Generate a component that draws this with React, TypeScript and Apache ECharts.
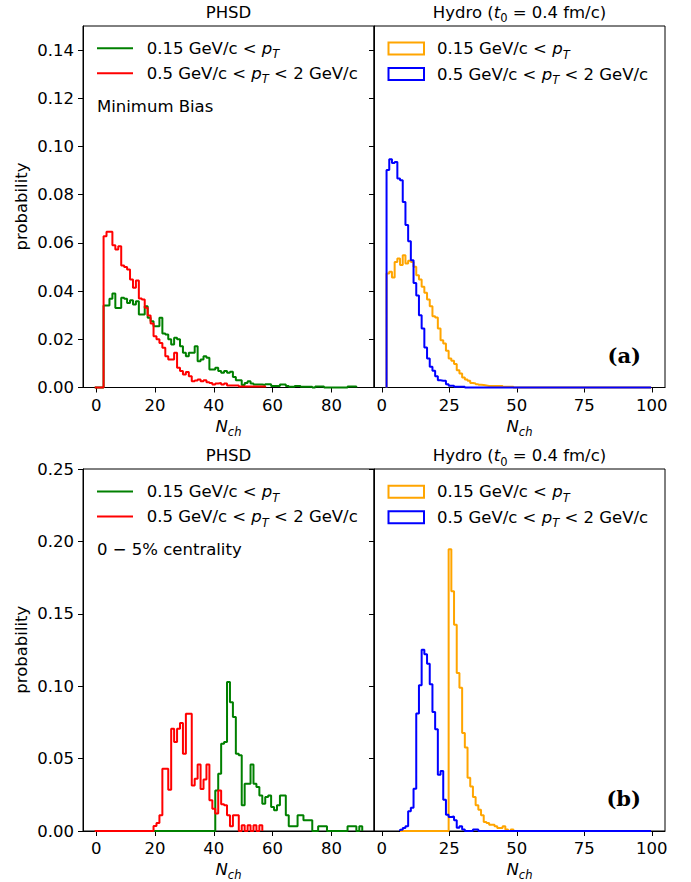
import React, { useEffect, useRef } from 'react';
import * as echarts from 'echarts';

const FONT = '"DejaVu Sans"';

// ---- Data (probability per N_ch bin, width 1) ----
// Panel (a) PHSD, minimum bias
const phsdMbGreenStart = 2.5;
const phsdMbGreen = [
  0.034, 0.034, 0.0368, 0.039, 0.033, 0.033, 0.0372, 0.0368, 0.0351, 0.0362,
  0.0344, 0.0358, 0.0303, 0.0303, 0.0337, 0.0289, 0.0275, 0.0254, 0.0254, 0.0289,
  0.0224, 0.022, 0.02, 0.0178, 0.0206, 0.02, 0.0171, 0.0144, 0.013, 0.0144,
  0.0144, 0.0171, 0.0109, 0.0116, 0.013, 0.0123, 0.0075, 0.0075, 0.0082, 0.0068,
  0.0061, 0.0068, 0.0061, 0.0065, 0.0044, 0.003, 0.003, 0.001, 0.0019, 0.0026,
  0.0017, 0.0012, 0.0012, 0.0012, 0.001, 0.0014, 0.0014, 0.0006, 0.0006, 0.0006,
  0.0012, 0.0012, 0.0006, 0.0003, 0.0003, 0.0006, 0.0006, 0.0003, 0.0003, 0.0003,
  0.0003, 0, 0.0004, 0.0004, 0.0004, 0, 0, 0, 0, 0,
  0, 0, 0, 0.0004, 0.0004, 0.0004,
];
const phsdMbRedStart = 2.5;
const phsdMbRed = [
  0.0628, 0.0646, 0.0646, 0.059, 0.0573, 0.0586, 0.0506, 0.05, 0.049, 0.0448,
  0.0414, 0.0444, 0.0369, 0.0365, 0.0331, 0.0299, 0.0266, 0.0213, 0.02, 0.0185,
  0.0165, 0.013, 0.0116, 0.0116, 0.0144, 0.0082, 0.0068, 0.0054, 0.0064, 0.0047,
  0.0026, 0.0029, 0.0033, 0.0026, 0.003, 0.0022, 0.0019, 0.0012, 0.0017, 0.0019,
  0.0012, 0.0017, 0.0008, 0.0008, 0.0008, 0.0008, 0.0004, 0.0004, 0.0004, 0.0004,
  0.0004, 0.0004, 0.0004, 0.0004, 0.0004,
];
// Panel (a) Hydro, minimum bias
const hydroMbStart = 1.75;
const hydroEnd = 99.75;
const hydroMbOrange = [
  0.0473, 0.048, 0.0456, 0.0521, 0.0535, 0.0508, 0.0549, 0.0515, 0.0526, 0.0521,
  0.0501, 0.0466, 0.0448, 0.0418, 0.0393, 0.0365, 0.0337, 0.0296, 0.029, 0.0245,
  0.0196, 0.0183, 0.0152, 0.012, 0.0111, 0.0097, 0.0072, 0.0058, 0.0041, 0.0033,
  0.0028, 0.0019, 0.0017, 0.0014, 0.0011, 0.001, 0.0008, 0.0006, 0.0006, 0.0006,
  0.0006, 0.0006, 0.0006, 0.0003, 0.0003, 0.0003, 0.0003,
];
const hydroMbBlue = [
  0.0902, 0.0947, 0.0932, 0.0936, 0.0867, 0.086, 0.077, 0.0674, 0.0607, 0.0528,
  0.0434, 0.0382, 0.03, 0.0245, 0.0166, 0.012, 0.0086, 0.0069, 0.0047, 0.003,
  0.0028, 0.0028, 0.0014, 0.0007, 0.0007, 0.0003, 0.0003, 0.0003, 0.0003,
];
// Panel (b) PHSD, 0-5% centrality
const phsdCentRedStart = 19.5;
const phsdCentRed = [
  0.0035, 0.0055, 0.0108, 0.043, 0.043, 0.0285, 0.0707, 0.0615, 0.0707, 0.0746,
  0.0534, 0.081, 0.081, 0.0315, 0.036, 0.046, 0.029, 0.0355, 0.046, 0.0212,
  0.0154, 0.012, 0.028, 0.0184, 0.0177, 0.0108, 0.0032, 0.0108, 0.0108, 0,
  0.0039, 0, 0.0039, 0, 0.0039, 0, 0.0039,
];
const phsdCentGreenStart = 40.5;
const phsdCentGreen = [
  0.028, 0.0396, 0.0603, 0.0615, 0.1029, 0.089, 0.0787, 0.0534, 0.0523, 0.0177,
  0.0327, 0.0327, 0.046, 0.0327, 0.0304, 0.0246, 0.0189, 0.0235, 0.0246, 0.0166,
  0.0143, 0.0177, 0.0246, 0.0246, 0.0108, 0.0032, 0.0032, 0.0032, 0.0108, 0.0108,
  0.0074, 0.0074, 0.0074, 0, 0, 0.0032, 0.0032, 0.0032, 0, 0,
  0, 0, 0, 0, 0, 0.0032, 0.0032, 0.0032, 0, 0.0032,
];
// Panel (b) Hydro, 0-5% centrality
const hydroCentBase = 6.75;
const hydroCentBlueStart = 6.75;
const hydroCentBlue = [
  0.0009, 0.002, 0.0032, 0.0136, 0.0161, 0.0292, 0.0812, 0.1006, 0.1252, 0.122,
  0.1155, 0.1013, 0.0822, 0.0702, 0.0389, 0.0414, 0.0215, 0.0113, 0.0097, 0.0101,
  0.0074, 0.0023, 0.0032, 0.001, 0, 0, 0, 0.0011, 0.0011,
];
const hydroCentOrangeStart = 24.75;
const hydroCentOrange = [
  0.1945, 0.1655, 0.1425, 0.1091, 0.099, 0.0677, 0.0576, 0.0368, 0.0308, 0.0235,
  0.0177, 0.0147, 0.0108, 0.0062, 0.0055, 0.0044, 0.0044, 0.0032, 0.0021, 0.0021,
  0.0032, 0.001, 0, 0.001,
];

const phsdTicks = [0, 20, 40, 60, 80];
const hydroTicks = [0, 25, 50, 75, 100];
const yTicksTop = [0, 0.02, 0.04, 0.06, 0.08, 0.1, 0.12, 0.14];
const yTicksBottom = [0, 0.05, 0.1, 0.15, 0.2, 0.25];

const GREEN = '#008000';
const RED = '#ff0000';
const ORANGE = '#ffa500';
const BLUE = '#0000ff';

function steps(x0: number, start: number, vals: number[], end?: number) {
  const pts: number[][] = [[x0, 0], [start, 0]];
  vals.forEach((v, i) => {
    pts.push([start + i, v], [start + i + 1, v]);
  });
  const last = start + vals.length;
  pts.push([last, 0]);
  if (end !== undefined && end > last) pts.push([end, 0]);
  return pts;
}

const GRIDS = [
  { left: 83, top: 26, width: 291, height: 361.5 },
  { left: 374, top: 26, width: 291, height: 361.5 },
  { left: 83, top: 469, width: 291, height: 362 },
  { left: 374, top: 469, width: 291, height: 362 },
];

function xAxis(gridIndex: number, min: number, max: number, ticks: number[]) {
  return {
    type: 'value', gridIndex, min, max,
    axisLine: { show: true, onZero: false, lineStyle: { color: '#000', width: 1 } },
    axisTick: { show: true, length: 5, customValues: ticks, lineStyle: { color: '#000', width: 1 } },
    axisLabel: { show: true, customValues: ticks, color: '#000', fontFamily: FONT, fontSize: 16.5, margin: 9, formatter: (v: number) => String(v) },
    splitLine: { show: false },
  };
}
function yAxis(gridIndex: number, max: number, ticks: number[], labels: boolean) {
  return {
    type: 'value', gridIndex, min: 0, max,
    axisLine: { show: true, onZero: false, lineStyle: { color: '#000', width: 1 } },
    axisTick: { show: true, length: 5, customValues: ticks, lineStyle: { color: '#000', width: 1 } },
    axisLabel: { show: labels, customValues: ticks, color: '#000', fontFamily: FONT, fontSize: 16.5, margin: 9, formatter: (v: number) => v.toFixed(2) },
    splitLine: { show: false },
  };
}

function line(idx: number, data: number[][], color: string, z: number) {
  return {
    type: 'line', xAxisIndex: idx, yAxisIndex: idx, data,
    symbol: 'none', showSymbol: false, clip: false, silent: true, z,
    lineStyle: { color, width: 2 }, itemStyle: { color },
  };
}

const rich = {
  i: { fontFamily: FONT, fontSize: 16.5, fontStyle: 'italic', lineHeight: 24 },
  s: { fontFamily: FONT, fontSize: 11.5, fontStyle: 'italic', lineHeight: 15, verticalAlign: 'bottom' },
  r: { fontFamily: FONT, fontSize: 11.5, lineHeight: 15, verticalAlign: 'bottom' },
};

function txt(x: number, y: number, text: string, extra: any = {}) {
  return {
    type: 'text', x, y, silent: true,
    style: {
      text, fill: '#000', fontFamily: FONT, fontSize: 16.5, lineHeight: 24,
      textAlign: 'left', textVerticalAlign: 'middle', verticalAlign: 'middle', rich, ...extra,
    },
  };
}

function panelGraphics(dy: number, infoText: string, tag: string) {
  const g: any[] = [];
  // titles
  g.push(txt(228.5, 12.4 + dy, 'PHSD', { textAlign: 'center' }));
  g.push(txt(519.5, 12.4 + dy, 'Hydro ({i|t}{r|0} = 0.4 fm/c)', { textAlign: 'center' }));
  // x labels
  g.push(txt(228.5, 426 + dy, '{i|N}{s|ch}', { textAlign: 'center' }));
  g.push(txt(519.5, 426 + dy, '{i|N}{s|ch}', { textAlign: 'center' }));
  // y label
  g.push({
    type: 'text', x: 21, y: 206.5 + dy, rotation: Math.PI / 2, silent: true,
    style: { text: 'probability', fill: '#000', fontFamily: FONT, fontSize: 16.5, textAlign: 'center', verticalAlign: 'middle' },
  });
  // PHSD legend
  g.push({ type: 'line', silent: true, shape: { x1: 97, y1: 48.3 + dy, x2: 133, y2: 48.3 + dy }, style: { stroke: GREEN, lineWidth: 2 } });
  g.push({ type: 'line', silent: true, shape: { x1: 97, y1: 73.3 + dy, x2: 133, y2: 73.3 + dy }, style: { stroke: RED, lineWidth: 2 } });
  g.push(txt(146.7, 48.3 + dy, '0.15 GeV/c < {i|p}{s|T}'));
  g.push(txt(146.7, 73.3 + dy, '0.5 GeV/c < {i|p}{s|T} < 2 GeV/c'));
  g.push(txt(97, 106.7 + dy, infoText));
  // Hydro legend
  g.push({ type: 'rect', silent: true, shape: { x: 388.5, y: 42.5 + dy, width: 35.5, height: 12 }, style: { stroke: ORANGE, fill: 'none', lineWidth: 2 } });
  g.push({ type: 'rect', silent: true, shape: { x: 388.5, y: 68 + dy, width: 35.5, height: 12 }, style: { stroke: BLUE, fill: 'none', lineWidth: 2 } });
  g.push(txt(437, 48.5 + dy, '0.15 GeV/c < {i|p}{s|T}'));
  g.push(txt(437, 74 + dy, '0.5 GeV/c < {i|p}{s|T} < 2 GeV/c'));
  // panel tag
  g.push({
    type: 'text', x: 641, y: 355 + dy, silent: true,
    style: { text: tag, fill: '#000', fontFamily: '"DejaVu Serif"', fontWeight: 'bold', fontSize: 21, textAlign: 'right', verticalAlign: 'middle' },
  });
  return g;
}

export default function App() {
  const ref = useRef<HTMLDivElement>(null);
  useEffect(() => {
    document.body.style.margin = '0';
    if (!ref.current) return;
    const chart = echarts.init(ref.current, null, { renderer: 'svg' });
    const dy = 443.2;
    chart.setOption({
      animation: false,
      backgroundColor: '#fff',
      grid: GRIDS.map((g) => ({ ...g, show: true, borderColor: '#000', borderWidth: 1, backgroundColor: 'transparent', containLabel: false })),
      xAxis: [
        xAxis(0, -4.5, 94.5, phsdTicks),
        xAxis(1, -2.9, 104.9, hydroTicks),
        xAxis(2, -4.5, 94.5, phsdTicks),
        xAxis(3, -2.9, 104.9, hydroTicks),
      ],
      yAxis: [
        yAxis(0, 0.15, yTicksTop, true),
        yAxis(1, 0.15, yTicksTop, false),
        yAxis(2, 0.25, yTicksBottom, true),
        yAxis(3, 0.25, yTicksBottom, false),
      ],
      series: [
        line(0, steps(-0.5, phsdMbGreenStart, phsdMbGreen), GREEN, 2),
        line(0, steps(-0.5, phsdMbRedStart, phsdMbRed), RED, 3),
        line(1, steps(hydroMbStart, hydroMbStart, hydroMbOrange, hydroEnd), ORANGE, 2),
        line(1, steps(hydroMbStart, hydroMbStart, hydroMbBlue, hydroEnd), BLUE, 3),
        line(2, steps(-0.5, phsdCentGreenStart, phsdCentGreen), GREEN, 2),
        line(2, steps(-0.5, phsdCentRedStart, phsdCentRed), RED, 3),
        line(3, steps(hydroCentBase, hydroCentOrangeStart, hydroCentOrange, hydroEnd), ORANGE, 2),
        line(3, steps(hydroCentBase, hydroCentBlueStart, hydroCentBlue, hydroEnd), BLUE, 3),
      ],
      graphic: [
        ...panelGraphics(0, 'Minimum Bias', '(a)'),
        ...panelGraphics(dy, '0 \u2212 5% centrality', '(b)'),
      ],
    });
    return () => chart.dispose();
  }, []);
  return <div ref={ref} style={{ width: 691, height: 882 }} />;
}
